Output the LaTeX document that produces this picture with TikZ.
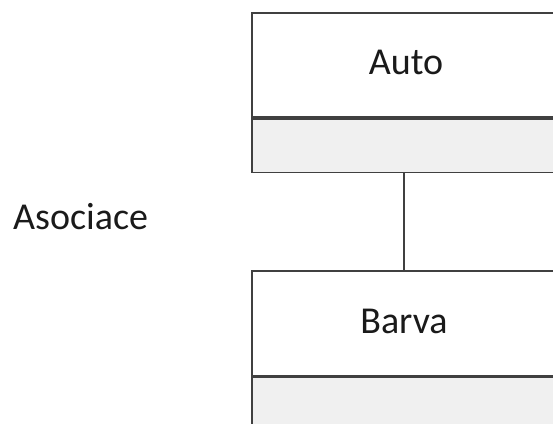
\documentclass[tikz,border=0pt]{standalone}
\usepackage{fontspec}
\setmainfont{Carlito}
\definecolor{edge}{HTML}{404040}
\definecolor{compfill}{HTML}{F0F0F0}
\definecolor{txt}{HTML}{1A1A1A}
\tikzset{
  namebox/.style={draw=edge, line width=1.6pt, fill=white, minimum width=320pt, inner sep=0pt, anchor=north west},
  attrbox/.style={draw=edge, line width=1.6pt, fill=compfill, minimum width=320pt, inner sep=0pt, anchor=north west},
  link/.style={draw=edge, line width=1.4pt},
  lbl/.style={font=\fontsize{38}{44}\selectfont, text=txt, inner sep=0pt}
}
\begin{document}
\begin{tikzpicture}[x=1pt,y=1pt]
\useasboundingbox (0,0) rectangle (553,423);
\clip (0,0) rectangle (553,423);
\node[namebox, minimum height=104.5pt] (auto) at (251,411) {};
\node[attrbox, minimum height=53.5pt] (autoattr) at (auto.south west) {};
\node[namebox, minimum height=105pt] (barva) at (251,153) {};
\node[attrbox, minimum height=60pt] (barvaattr) at (barva.south west) {};
\node[lbl, anchor=base] (autotxt) at (406,348) {Auto};
\node[lbl, anchor=base] (barvatxt) at (404,90) {Barva};
\draw[link] (autoattr.south -| 404,0) -- (barva.north -| 404,0);
\node[lbl, anchor=base west] (assoc) at (13,193) {Asociace};
\end{tikzpicture}
\end{document}
